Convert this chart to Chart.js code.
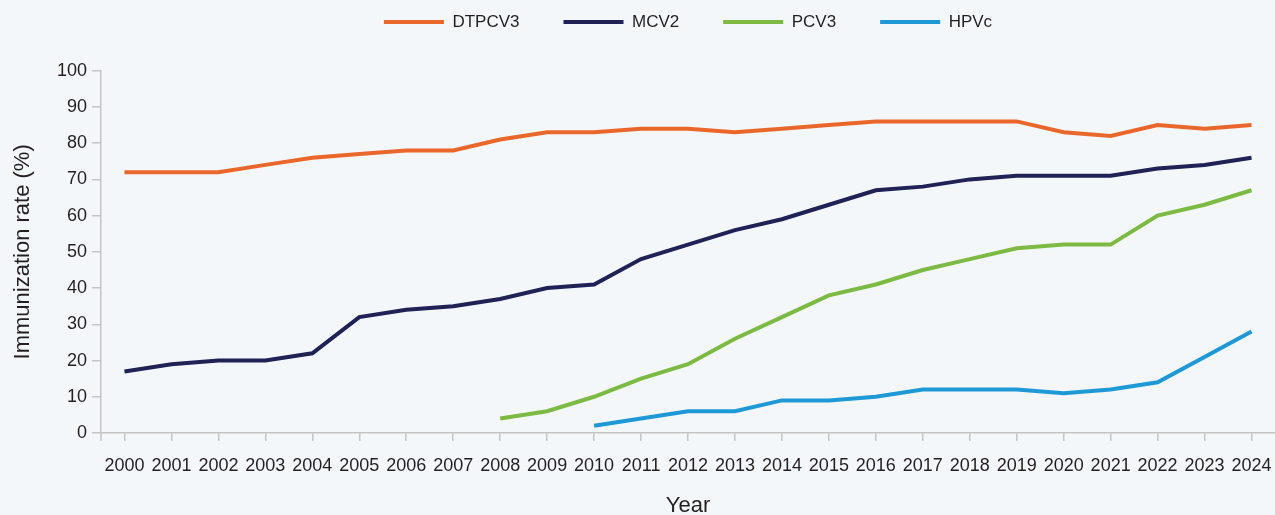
<!DOCTYPE html>
<html>
<head>
<meta charset="utf-8">
<script src="https://cdn.jsdelivr.net/npm/chart.js@4.4.1/dist/chart.umd.min.js"></script>
<style>
  html, body { margin: 0; padding: 0; background: #F4F7F9; }
  #wrap { width: 1275px; height: 515px; position: relative; }
</style>
</head>
<body>
<div id="wrap"><canvas id="c"></canvas></div>
<script>
const years = ['2000','2001','2002','2003','2004','2005','2006','2007','2008','2009','2010','2011','2012','2013','2014','2015','2016','2017','2018','2019','2020','2021','2022','2023','2024'];
const dtpcv3 = [72,72,72,74,76,77,78,78,81,83,83,84,84,83,84,85,86,86,86,86,83,82,85,84,85];
const mcv2   = [17,19,20,20,22,32,34,35,37,40,41,48,52,56,59,63,67,68,70,71,71,71,73,74,76];
const pcv3   = [null,null,null,null,null,null,null,null,4,6,10,15,19,26,32,38,41,45,48,51,52,52,60,63,67];
const hpvc   = [null,null,null,null,null,null,null,null,null,null,2,4,6,6,9,9,10,12,12,12,11,12,14,21,28];
const yTicks = [0,10,20,30,40,50,60,70,80,90,100];

const seriesNames  = ['DTPCV3','MCV2','PCV3','HPVc'];
const seriesColors = ['#EA672C','#1E2254','#7CBA43','#1F99D6'];
const seriesData   = [dtpcv3, mcv2, pcv3, hpvc];

const axisColor = '#C4C4C4';
const textColor = '#231F20';
const baseFont = "'Liberation Sans', Arial, sans-serif";

const legendSpacer = {
  id: 'legendSpacer',
  afterInit(chart) {
    const lg = chart.legend;
    if (lg && !lg._wrapped) {
      const f = lg.fit.bind(lg);
      lg.fit = function() { f(); this.height += 30.2; };
      lg._wrapped = true;
    }
  }
};

const cornerTick = {
  id: 'cornerTick',
  afterDraw(chart) {
    const {ctx, chartArea} = chart;
    ctx.save();
    ctx.strokeStyle = axisColor;
    ctx.lineWidth = 1.5;
    ctx.beginPath();
    ctx.moveTo(chartArea.left, chartArea.bottom);
    ctx.lineTo(chartArea.left, chartArea.bottom + 8);
    ctx.stroke();
    ctx.restore();
  }
};

new Chart(document.getElementById('c'), {
  type: 'line',
  data: {
    labels: years,
    datasets: seriesNames.map((n, i) => ({
      label: n,
      data: seriesData[i],
      borderColor: seriesColors[i],
      backgroundColor: seriesColors[i],
      borderWidth: 4,
      pointRadius: 0,
      pointHoverRadius: 0,
      tension: 0,
      spanGaps: false,
      fill: false
    }))
  },
  options: {
    responsive: true,
    maintainAspectRatio: false,
    animation: false,
    layout: { padding: { top: -30.5, left: 0, right: 0, bottom: 0 } },
    plugins: {
      tooltip: { enabled: false },
      legend: {
        position: 'top',
        fullSize: false,
        labels: {
          boxWidth: 60,
          boxHeight: 4,
          padding: 44,
          color: textColor,
          font: { family: baseFont, size: 17 },
          generateLabels(chart) {
            return Chart.defaults.plugins.legend.labels.generateLabels(chart).map(it => Object.assign(it, { lineWidth: 0, fillStyle: it.strokeStyle }));
          }
        }
      }
    },
    scales: {
      x: {
        type: 'category',
        offset: true,
        grid: { display: true, drawOnChartArea: false, drawTicks: true, tickLength: 8, offset: false, color: axisColor, lineWidth: 1.5 },
        border: { display: true, color: axisColor, width: 1.5 },
        ticks: { color: textColor, font: { family: baseFont, size: 18, lineHeight: 2.42 }, maxRotation: 0, autoSkip: false, padding: 3 },
        title: { display: true, text: 'Year', color: textColor, font: { family: baseFont, size: 22 }, padding: { top: 0, bottom: -4 } },
        afterFit(s) { s.height = 82; }
      },
      y: {
        min: 0,
        max: 100,
        afterBuildTicks(s) { s.ticks = yTicks.map(v => ({ value: v })); },
        grid: { display: true, drawOnChartArea: false, drawTicks: true, tickLength: 9, color: axisColor, lineWidth: 1.5 },
        border: { display: true, color: axisColor, width: 1.5 },
        ticks: { color: textColor, font: { family: baseFont, size: 18 }, padding: 5 },
        title: { display: true, text: 'Immunization rate (%)', color: textColor, font: { family: baseFont, size: 22 }, padding: { top: 10, bottom: 0 } },
        afterFit(s) { s.width = 101; }
      }
    }
  },
  plugins: [legendSpacer, cornerTick]
});
</script>
</body>
</html>
